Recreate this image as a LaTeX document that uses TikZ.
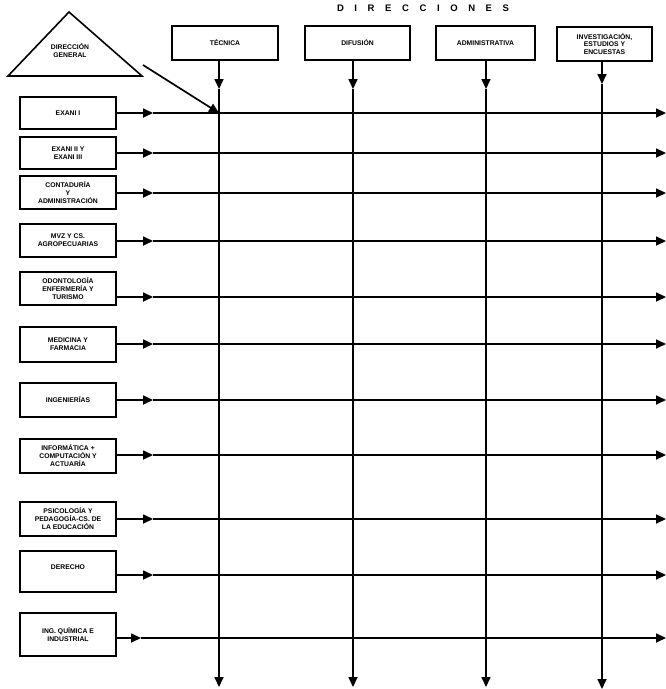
\documentclass[tikz,border=0pt]{standalone}
\usepackage{fontspec}
\setmainfont{Liberation Sans}
\usetikzlibrary{arrows.meta}
\newcommand\lsp{\hspace{10.6pt}}
\begin{document}
\begin{tikzpicture}[x=1pt,y=-1pt,
  ln/.style={line width=1.7pt},
  tipstyle/.style={-{Triangle[length=10pt,width=9pt]}},
  lbox/.style={draw,line width=1.6pt,minimum width=96pt,align=center,inner sep=1pt,
    font=\bfseries\fontsize{6.8}{8}\selectfont},
  dbox/.style={draw,line width=1.6pt,minimum height=34pt,align=center,inner sep=1pt,
    font=\bfseries\fontsize{6.8}{7.6}\selectfont},
  lbl/.style={align=center,inner sep=0pt,font=\bfseries\fontsize{6.8}{8}\selectfont}]
\useasboundingbox (0,0) rectangle (666,689);

% title
\node[font=\bfseries\fontsize{9.5}{10}\selectfont] (title) at (423,8)
  {D\lsp I\lsp R\lsp E\lsp C\lsp C\lsp I\lsp O\lsp N\lsp E\lsp S};

% direccion general triangle
\draw[line width=1.6pt,line join=miter] (69,12) -- (142,76) -- (8,76) -- cycle;
\node[lbl] (dg) at (70,51) {DIRECCIÓN\\GENERAL};

% direcciones boxes
\node[dbox,minimum width=106pt] (tec) at (225,43) {TÉCNICA};
\node[dbox,minimum width=105pt] (dif) at (357.5,43) {DIFUSIÓN};
\node[dbox,minimum width=99pt] (adm) at (485.5,43) {ADMINISTRATIVA};
\node[dbox,minimum width=95pt] (inv) at (604.5,44) {INVESTIGACIÓN,\\ESTUDIOS Y\\ENCUESTAS};

% vertical lines
\coordinate (vt1) at (219,89);  \coordinate (vb1) at (219,687);
\coordinate (vt2) at (353,89);  \coordinate (vb2) at (353,687);
\coordinate (vt3) at (486,89);  \coordinate (vb3) at (486,687);
\coordinate (vt4) at (602,84);  \coordinate (vb4) at (602,689);
\draw[ln,tipstyle] (tec.south -| vt1) -- (vt1);
\draw[ln,tipstyle] (vt1) -- (vb1);
\draw[ln,tipstyle] (dif.south -| vt2) -- (vt2);
\draw[ln,tipstyle] (vt2) -- (vb2);
\draw[ln,tipstyle] (adm.south -| vt3) -- (vt3);
\draw[ln,tipstyle] (vt3) -- (vb3);
\draw[ln,tipstyle] (inv.south -| vt4) -- (vt4);
\draw[ln,tipstyle] (vt4) -- (vb4);

% left boxes
\node[lbox,minimum height=32pt] (b1) at (68,113) {EXANI I};
\node[lbox,minimum height=32pt] (b2) at (68,153) {EXANI II Y\\EXANI III};
\node[lbox,minimum height=33pt] (b3) at (68,192.5) {CONTADURÍA\\Y\\ADMINISTRACIÓN};
\node[lbox,minimum height=33pt] (b4) at (68,240.5) {MVZ Y CS.\\AGROPECUARIAS};
\node[lbox,minimum height=33pt] (b5) at (68,288.5) {ODONTOLOGÍA\\ENFERMERÍA Y\\TURISMO};
\node[lbox,minimum height=35pt] (b6) at (68,344.5) {MEDICINA Y\\FARMACIA};
\node[lbox,minimum height=34pt] (b7) at (68,400) {INGENIERÍAS};
\node[lbox,minimum height=34pt] (b8) at (68,456) {INFORMÁTICA +\\COMPUTACIÓN Y\\ACTUARÍA};
\node[lbox,minimum height=34pt] (b9) at (68,519) {PSICOLOGÍA Y\\PEDAGOGÍA-CS. DE\\LA EDUCACIÓN};
\node[lbox,minimum height=41pt] (b10) at (68,571.5) {DERECHO\\\mbox{}};
\node[lbox,minimum height=43pt] (b11) at (68,634.5) {ING. QUÍMICA E\\INDUSTRIAL};

% horizontal lines
\foreach \i/\y/\m in {1/113/153,2/153/153,3/193/153,4/241/153,5/297/153,6/344/153,
                      7/400/153,8/455/153,9/519/153,10/575/153,11/638/141}{
  \coordinate (m\i) at (\m,\y);
  \coordinate (e\i) at (666,\y);
  \draw[ln,tipstyle] (b\i.east |- e\i) -- (m\i);
  \draw[ln,tipstyle] (m\i) -- (e\i);
}

% diagonal from direccion general
\coordinate (ds) at (143,65);
\coordinate (de) at (219,113);
\draw[ln,tipstyle] (ds) -- (de);
\end{tikzpicture}
\end{document}
